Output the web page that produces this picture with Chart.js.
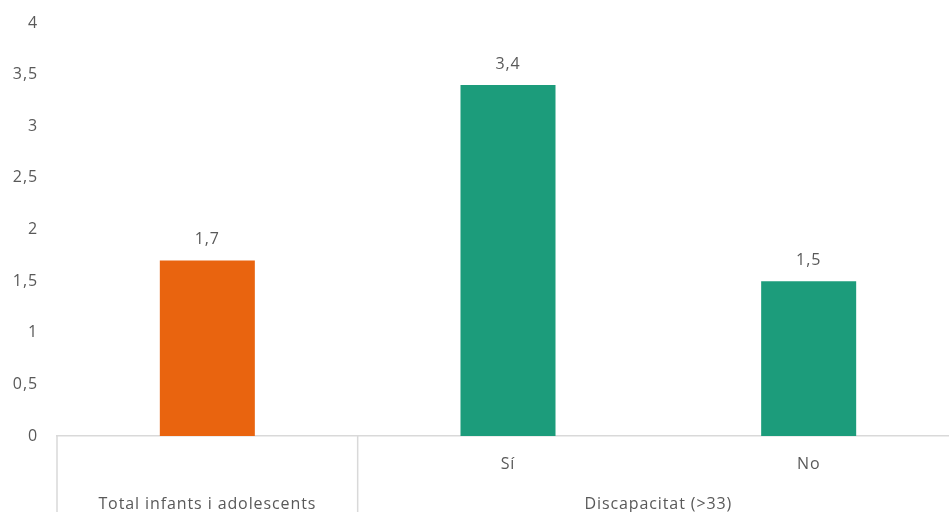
<!DOCTYPE html>
<html>
<head>
<meta charset="utf-8">
<script src="https://cdn.jsdelivr.net/npm/chart.js@4"></script>
<style>
  html, body { margin: 0; padding: 0; background: #fff; overflow: hidden; }
  #wrap { width: 960px; height: 512px; position: relative; }
</style>
</head>
<body>
<div id="wrap"><canvas id="chart"></canvas></div>
<script>
const categories = ['Total', 'Sí', 'No'];
const subLabels = ['', 'Sí', 'No'];
const values = [1.7, 3.4, 1.5];
const barColors = ['#E9640F', '#1C9C7B', '#1C9C7B'];
// outer level of the category axis: label and the category indexes it spans
const groupLabels = ['Total infants i adolescents', 'Discapacitat (>33)'];
const groupSpans = [[0, 0], [1, 2]];

const textColor = '#595959';
const lineColor = '#d9d9d9';
const fontFamily = '"Open Sans", sans-serif';
const spacing = '0.9px';

const fmt = v => String(v).replace('.', ',');

// value labels above bars + two-level category axis
const extras = {
  id: 'extras',
  beforeDraw(chart) {
    chart.ctx.letterSpacing = spacing;
  },
  afterDatasetsDraw(chart) {
    const ctx = chart.ctx;
    const meta = chart.getDatasetMeta(0);
    ctx.save();
    ctx.letterSpacing = spacing;
    ctx.fillStyle = textColor;
    ctx.font = '16px ' + fontFamily;
    ctx.textAlign = 'center';
    ctx.textBaseline = 'middle';
    meta.data.forEach((bar, i) => {
      ctx.fillText(fmt(values[i]), bar.x, bar.y - 21);
    });
    ctx.restore();
  },
  afterDraw(chart) {
    const ctx = chart.ctx;
    const x = chart.scales.x;
    const area = chart.chartArea;
    const bottom = chart.height;
    ctx.save();
    ctx.strokeStyle = lineColor;
    ctx.lineWidth = 1.5;
    // separators between groups
    const half = (x.getPixelForValue(1) - x.getPixelForValue(0)) / 2;
    const seps = [area.left];
    groupSpans.forEach(s => seps.push(x.getPixelForValue(s[1]) + half));
    seps.forEach(px => {
      ctx.beginPath();
      ctx.moveTo(px, area.bottom);
      ctx.lineTo(px, bottom);
      ctx.stroke();
    });
    ctx.letterSpacing = spacing;
    ctx.fillStyle = textColor;
    ctx.font = '16px ' + fontFamily;
    ctx.textAlign = 'center';
    ctx.textBaseline = 'middle';
    subLabels.forEach((lab, i) => {
      if (lab) ctx.fillText(lab, x.getPixelForValue(i), area.bottom + 28);
    });
    groupLabels.forEach((lab, g) => {
      const [a, b] = groupSpans[g];
      const cx = (x.getPixelForValue(a) + x.getPixelForValue(b)) / 2;
      ctx.fillText(lab, cx, area.bottom + 68);
    });
    ctx.restore();
  }
};

new Chart(document.getElementById('chart'), {
  type: 'bar',
  data: {
    labels: categories,
    datasets: [{
      data: values,
      backgroundColor: barColors,
      borderWidth: 0,
      barPercentage: 0.316,
      categoryPercentage: 1
    }]
  },
  options: {
    responsive: true,
    maintainAspectRatio: false,
    animation: false,
    layout: { padding: { top: 23, right: 1, bottom: 0, left: 0 } },
    plugins: { legend: { display: false }, tooltip: { enabled: false } },
    scales: {
      x: {
        grid: { display: false, drawTicks: false },
        border: { display: true, color: lineColor, width: 1.5 },
        ticks: { display: false },
        afterFit(scale) { scale.height = 76; }
      },
      y: {
        min: 0,
        max: 4,
        grid: { display: false, drawTicks: false },
        border: { display: false },
        ticks: {
          stepSize: 0.5,
          padding: 19,
          color: textColor,
          font: { size: 16, family: fontFamily },
          callback: v => fmt(v)
        },
        afterFit(scale) {
          scale.width = 57;
          scale.paddingTop = 0;
          scale.paddingBottom = 0;
        }
      }
    }
  },
  plugins: [extras]
});
</script>
</body>
</html>
